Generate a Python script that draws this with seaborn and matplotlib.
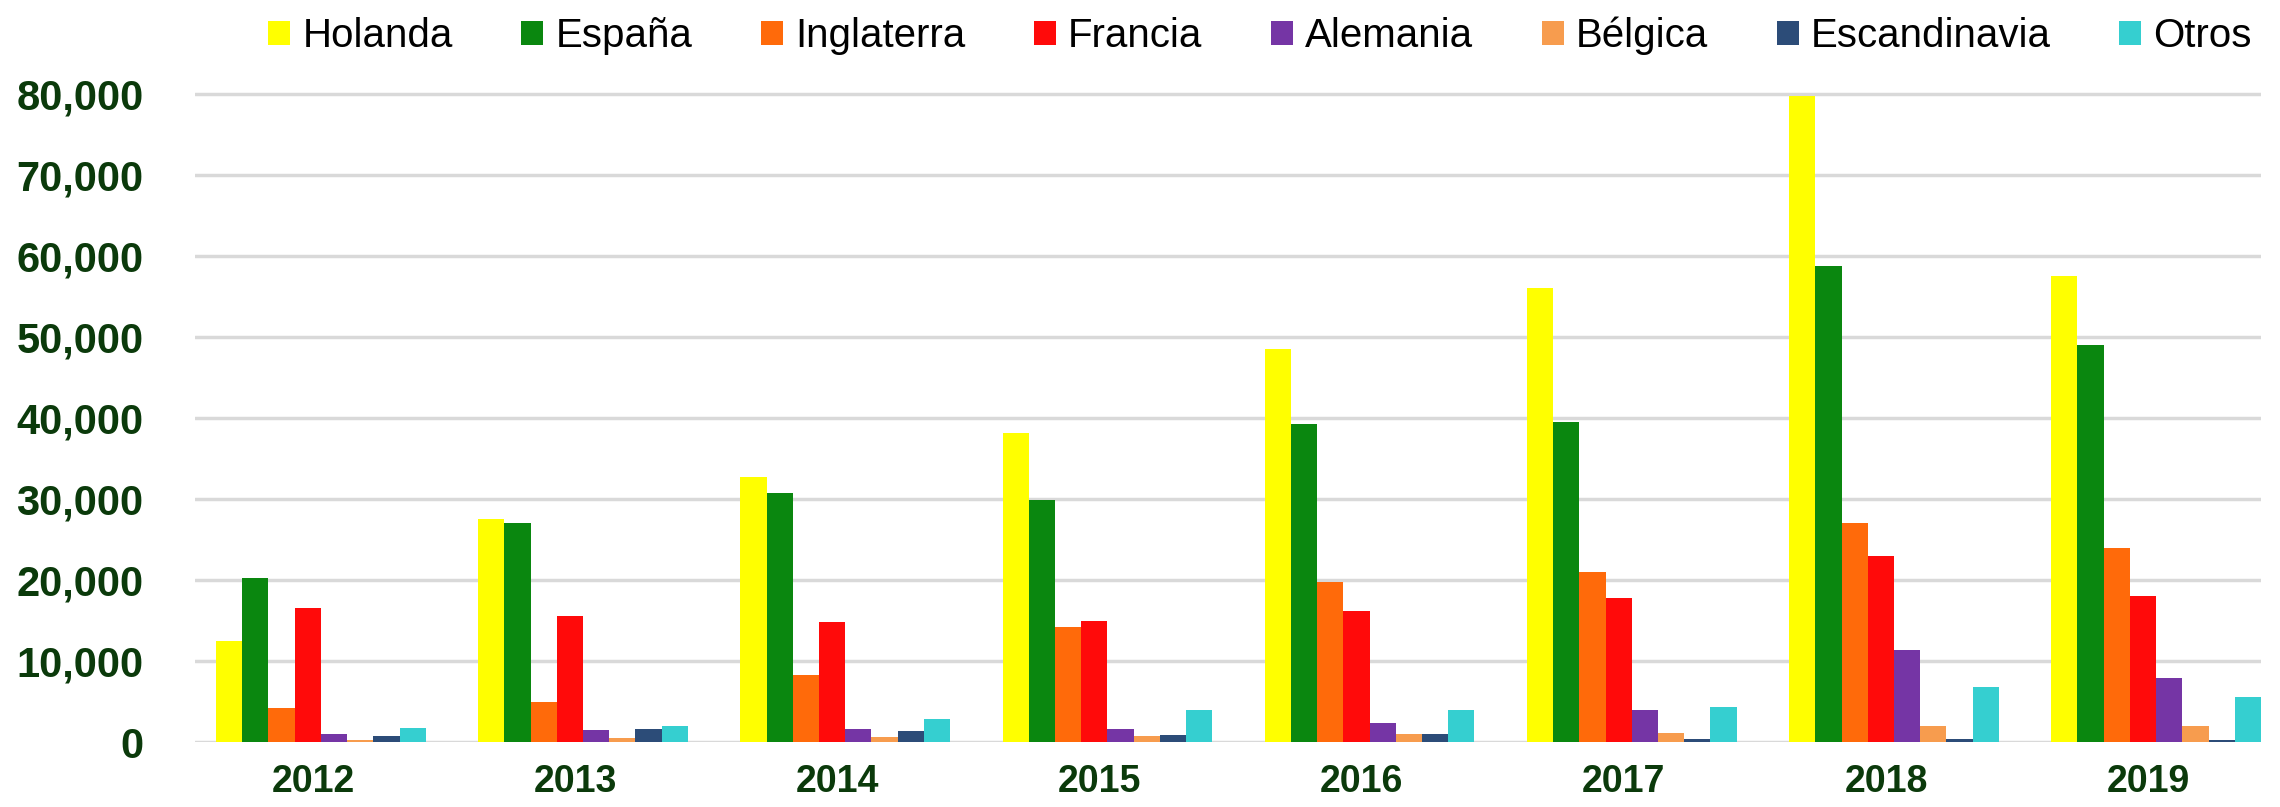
import pandas as pd
import seaborn as sns
import matplotlib.pyplot as plt
from matplotlib.ticker import FuncFormatter

years = ['2012', '2013', '2014', '2015', '2016', '2017', '2018', '2019']
holanda = [12500, 27500, 32700, 38200, 48500, 56000, 79800, 57500]
espana = [20200, 27100, 30700, 29900, 39300, 39500, 58800, 49000]
inglaterra = [4200, 4900, 8300, 14200, 19800, 21000, 27000, 23900]
francia = [16500, 15600, 14800, 14900, 16200, 17800, 23000, 18000]
alemania = [1000, 1500, 1600, 1600, 2300, 4000, 11400, 7900]
belgica = [300, 500, 600, 700, 1000, 1100, 2000, 2000]
escandinavia = [700, 1600, 1400, 900, 1000, 400, 400, 300]
otros = [1700, 2000, 2800, 4000, 4000, 4300, 6800, 5600]

series = {
    'Holanda': holanda,
    'España': espana,
    'Inglaterra': inglaterra,
    'Francia': francia,
    'Alemania': alemania,
    'Bélgica': belgica,
    'Escandinavia': escandinavia,
    'Otros': otros,
}
colors = ['#FFFF00', '#0A870F', '#FF6A0A', '#FF0A0A', '#7535A5',
          '#F79C4E', '#2C4C78', '#35CFD0']

rows = []
for name, vals in series.items():
    for y, v in zip(years, vals):
        rows.append({'year': y, 'pais': name, 'valor': v})
df = pd.DataFrame(rows)

sns.set_style('white')
plt.rcParams['font.family'] = ['Liberation Sans', 'DejaVu Sans']

fig = plt.figure(figsize=(22.8, 8.07), dpi=100)
ax = fig.add_axes([195 / 2280, 0.0805, (2261 - 195) / 2280, 0.808])

sns.barplot(data=df, x='year', y='valor', hue='pais', palette=colors,
            width=0.8, gap=0, edgecolor='none', saturation=1, ax=ax, zorder=3)

ax.set_xlim(-0.48, 7.40)
ax.set_ylim(0, 80500)
ax.set_yticks(range(0, 80001, 10000))
ax.set_xticks([i - 0.03 for i in range(len(years))])
ax.set_xticklabels(years)
ax.yaxis.set_major_formatter(FuncFormatter(lambda v, p: f'{int(v):,}'))
ax.grid(axis='y', color='#D9D9D9', linewidth=2.5, zorder=0)
ax.grid(axis='x', visible=False)
for s in ax.spines.values():
    s.set_visible(False)
ax.set_xlabel('')
ax.set_ylabel('')
ax.yaxis.set_tick_params(labelsize=30, labelcolor='#0B3A0B', length=0, pad=37)
ax.xaxis.set_tick_params(labelsize=27, labelcolor='#0B3A0B', length=0, pad=16)
for t in ax.get_yticklabels() + ax.get_xticklabels():
    t.set_fontweight('bold')

leg = ax.legend(loc='center', bbox_to_anchor=(0.5155, 1.083), ncol=8,
                frameon=False, fontsize=29, handlelength=0.55, handleheight=0.55,
                handletextpad=0.3, columnspacing=1.7, borderaxespad=0)
for t in leg.get_texts():
    t.set_color('black')

fig.savefig('out.png', dpi=100)
